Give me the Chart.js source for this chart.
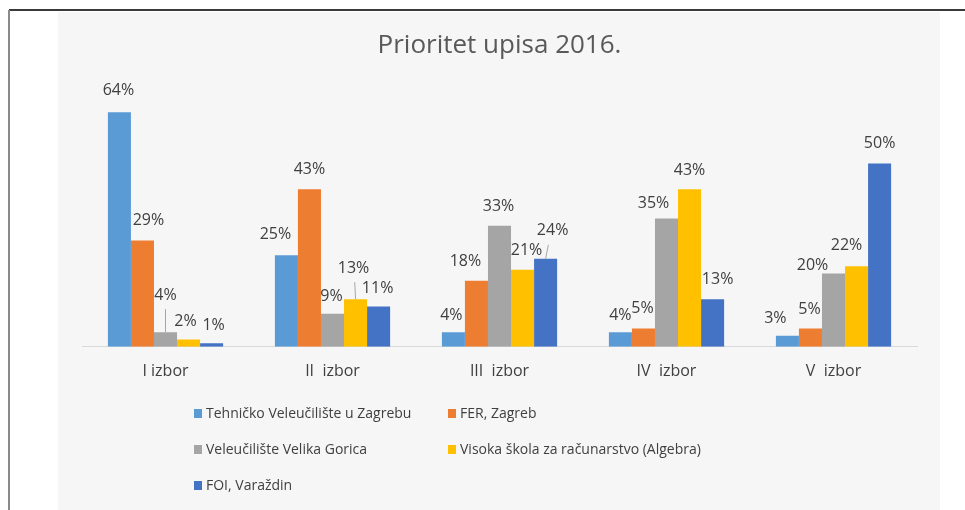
<!DOCTYPE html>
<html><head><meta charset="utf-8">
<script src="https://cdn.jsdelivr.net/npm/chart.js@4.4.1/dist/chart.umd.min.js"></script>
<style>
html,body{margin:0;padding:0;background:#fff;width:965px;height:510px;overflow:hidden;}
#panel{position:absolute;left:58px;top:12px;width:882px;height:498px;background:#f6f6f6;}
#topline{position:absolute;left:9px;top:9px;width:956px;height:2px;background:#3a3a3a;}
#leftline{position:absolute;left:8px;top:10px;width:2px;height:500px;background:#8a8a8a;}
#c{position:absolute;left:0;top:0;}
</style></head><body>
<div id="panel"></div><div id="topline"></div><div id="leftline"></div>
<canvas id="c" width="965" height="510"></canvas>
<script>
const chartTitle = 'Prioritet upisa 2016.';
const categories = ['I izbor', 'II  izbor', 'III  izbor', 'IV  izbor', 'V  izbor'];
const seriesNames = ['Tehničko Veleučilište u Zagrebu', 'FER, Zagreb', 'Veleučilište Velika Gorica', 'Visoka škola za računarstvo (Algebra)', 'FOI, Varaždin'];
const tvzValues = [64, 25, 4, 4, 3];
const ferValues = [29, 43, 18, 5, 5];
const vvgValues = [4, 9, 33, 35, 20];
const algebraValues = [2, 13, 21, 43, 22];
const foiValues = [1, 11, 24, 13, 50];

const seriesColors = ['#5B9BD5', '#ED7D31', '#A5A5A5', '#FFC000', '#4472C4'];
const allValues = [tvzValues, ferValues, vvgValues, algebraValues, foiValues];

// label placement tweaks: [dx, rise above bar top, leader line]
const labelPlacement = {
  '0-0': [-1, 22], '1-0': [6, 20], '2-0': [0, 37, true], '3-0': [-3, 18], '4-0': [2, 18],
  '0-1': [-11, 21], '1-1': [0, 20], '2-1': [-1, 17], '3-1': [-2, 31, true], '4-1': [-1, 18],
  '0-2': [-2, 17], '1-2': [-11, 19], '2-2': [-1, 19], '3-2': [4, 19], '4-2': [7, 28, true],
  '0-3': [0, 17], '1-3': [-1, 20], '2-3': [-13, 15], '3-3': [0, 19], '4-3': [5, 20],
  '0-4': [-12, 17], '1-4': [-1, 19], '2-4': [-21, 8], '3-4': [-10, 21], '4-4': [0, 20]
};

const valueLabels = {
  id: 'valueLabels',
  afterDatasetsDraw(chart) {
    const ctx = chart.ctx;
    ctx.save();
    ctx.font = '16px "Open Sans"';
    ctx.fillStyle = '#404040';
    ctx.textAlign = 'center';
    ctx.textBaseline = 'middle';
    chart.data.datasets.forEach((ds, d) => {
      const meta = chart.getDatasetMeta(d);
      meta.data.forEach((bar, i) => {
        const p = labelPlacement[d + '-' + i] || [0, 20];
        const lx = bar.x + p[0];
        const ly = bar.y - p[1];
        ctx.fillText(ds.data[i] + '%', lx, ly);
        if (p[2]) {
          ctx.strokeStyle = '#a6a6a6';
          ctx.lineWidth = 1;
          ctx.beginPath();
          ctx.moveTo(bar.x + 0.4 * p[0], ly + 14);
          ctx.lineTo(bar.x, bar.y);
          ctx.stroke();
        }
      });
    });
    ctx.restore();
  }
};

const gridLegend = {
  id: 'gridLegend',
  afterDraw(chart) {
    const ctx = chart.ctx;
    ctx.save();
    ctx.font = '14px "Open Sans"';
    ctx.textAlign = 'left';
    ctx.textBaseline = 'middle';
    const colX = [194, 448];
    chart.data.datasets.forEach((ds, i) => {
      const x = colX[i % 2];
      const y = 414 + Math.floor(i / 2) * 36;
      ctx.fillStyle = ds.backgroundColor;
      ctx.fillRect(x, y - 5, 8, 9);
      ctx.fillStyle = '#404040';
      ctx.fillText(ds.label, x + 12, y);
    });
    ctx.restore();
  }
};

new Chart(document.getElementById('c'), {
  type: 'bar',
  data: {
    labels: categories,
    datasets: seriesNames.map((name, k) => ({
      label: name,
      data: allValues[k],
      backgroundColor: seriesColors[k],
      borderWidth: 0,
      categoryPercentage: 0.69,
      barPercentage: 1
    }))
  },
  options: {
    responsive: false,
    animation: false,
    devicePixelRatio: 1,
    layout: { padding: { left: 82, right: 48, top: 0, bottom: 114 } },
    plugins: {
      legend: { display: false },
      tooltip: { enabled: false },
      title: {
        display: true,
        text: chartTitle,
        color: '#595959',
        font: { family: 'Open Sans', size: 26, weight: 'normal', lineHeight: 1.2 },
        padding: { top: 30, bottom: 29 }
      }
    },
    scales: {
      x: {
        grid: { display: false, drawTicks: false },
        border: { display: true, color: '#d9d9d9', width: 1 },
        ticks: { color: '#404040', font: { family: 'Open Sans', size: 16 }, padding: 15 }
      },
      y: { display: false, min: 0, max: 70 }
    }
  },
  plugins: [valueLabels, gridLegend]
});
</script>
</body></html>
